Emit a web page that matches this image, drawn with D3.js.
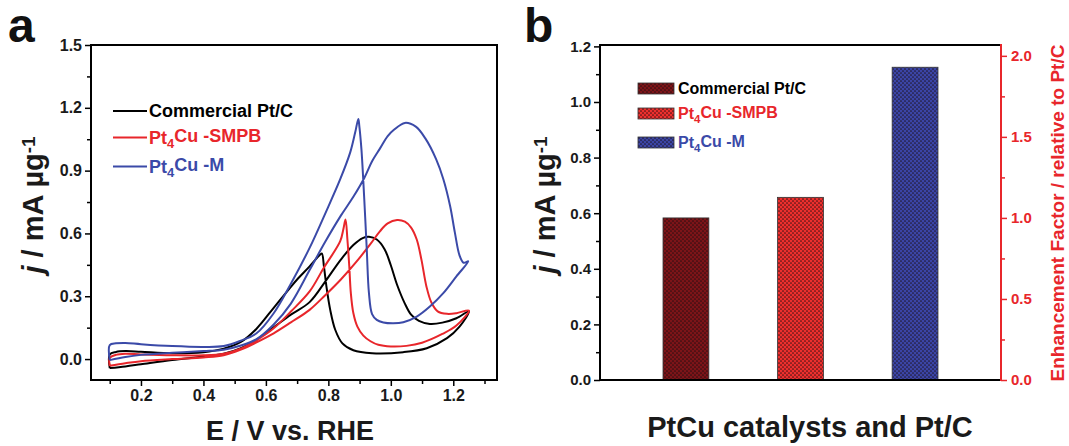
<!DOCTYPE html>
<meta charset="utf-8">
<style>
  body { margin: 0; background: #fff; }
  svg { display: block; font-family: "Liberation Sans", Arial, sans-serif; font-weight: bold; }
  .frame { fill: none; stroke: #000; stroke-width: 2; }
  .axis path { display: none; }
  .axis line { stroke: #000; stroke-width: 1.5; }
  .axis text { font-size: 15px; font-weight: bold; fill: #1a1a1a; }
  .red-axis line { stroke: #e8262b; }
  .red-axis text { fill: #e8262b; }
</style>
<svg width="1069" height="446"></svg>
<script src="https://cdnjs.cloudflare.com/ajax/libs/d3/7.8.5/d3.min.js"></script>
<script>
// ---- data ----
var catalysts = ["Commercial Pt/C", "Pt4Cu -SMPB", "Pt4Cu -M"];
var lineColors = ["#000000", "#e8262b", "#3b4aa8"];

// CV curves, [E (V vs RHE), j (mA/ug)]; forward then reverse scan
var ptcForward = [[0.10,-0.043],[0.15,-0.035],[0.20,-0.025],[0.30,-0.005],[0.40,0.012],[0.465,0.025],[0.52,0.052],[0.57,0.092],[0.625,0.152],[0.68,0.212],[0.74,0.272],[0.79,0.37],[0.84,0.475],[0.88,0.545],[0.91,0.578],[0.93,0.584],[0.955,0.571],[0.98,0.525],[1.00,0.448],[1.02,0.355],[1.045,0.265],[1.065,0.212],[1.09,0.182],[1.125,0.168],[1.165,0.174],[1.21,0.195],[1.25,0.228]];
var ptcReverse = [[1.25,0.228],[1.22,0.155],[1.18,0.10],[1.115,0.052],[1.04,0.033],[0.94,0.028],[0.88,0.042],[0.845,0.075],[0.822,0.14],[0.806,0.235],[0.794,0.345],[0.786,0.44],[0.779,0.504],[0.77,0.493],[0.74,0.443],[0.70,0.38],[0.68,0.345],[0.625,0.245],[0.57,0.145],[0.52,0.082],[0.465,0.05],[0.40,0.033],[0.30,0.028],[0.20,0.035],[0.15,0.038],[0.12,0.034],[0.10,0.022]];
var smpbForward = [[0.10,-0.032],[0.15,-0.02],[0.20,-0.01],[0.30,0.0],[0.40,0.008],[0.465,0.018],[0.52,0.045],[0.57,0.08],[0.625,0.123],[0.68,0.175],[0.74,0.235],[0.79,0.305],[0.84,0.38],[0.89,0.465],[0.935,0.55],[0.965,0.61],[0.99,0.648],[1.02,0.664],[1.045,0.656],[1.065,0.628],[1.083,0.571],[1.098,0.475],[1.114,0.347],[1.13,0.27],[1.15,0.228],[1.18,0.216],[1.21,0.219],[1.25,0.232]];
var smpbReverse = [[1.25,0.232],[1.21,0.16],[1.165,0.12],[1.10,0.078],[1.05,0.063],[1.00,0.06],[0.96,0.068],[0.935,0.085],[0.912,0.112],[0.893,0.155],[0.88,0.22],[0.872,0.315],[0.867,0.443],[0.861,0.571],[0.855,0.667],[0.848,0.62],[0.838,0.563],[0.785,0.435],[0.74,0.323],[0.68,0.227],[0.625,0.147],[0.57,0.09],[0.52,0.05],[0.465,0.026],[0.40,0.018],[0.30,0.018],[0.20,0.022],[0.15,0.025],[0.12,0.02],[0.10,0.005]];
var mForward = [[0.10,-0.005],[0.15,0.01],[0.20,0.02],[0.30,0.03],[0.40,0.038],[0.465,0.045],[0.52,0.065],[0.57,0.095],[0.625,0.165],[0.68,0.265],[0.74,0.425],[0.79,0.56],[0.84,0.685],[0.88,0.775],[0.915,0.865],[0.94,0.945],[0.965,1.005],[0.99,1.065],[1.01,1.095],[1.045,1.128],[1.08,1.11],[1.11,1.055],[1.145,0.955],[1.168,0.86],[1.19,0.73],[1.205,0.605],[1.22,0.495],[1.233,0.46],[1.248,0.467]];
var mReverse = [[1.248,0.467],[1.21,0.395],[1.168,0.315],[1.125,0.251],[1.083,0.203],[1.04,0.176],[1.008,0.171],[0.976,0.175],[0.955,0.187],[0.94,0.215],[0.93,0.315],[0.923,0.523],[0.915,0.763],[0.906,1.0],[0.899,1.115],[0.896,1.147],[0.886,1.083],[0.87,0.987],[0.838,0.859],[0.79,0.695],[0.74,0.531],[0.68,0.36],[0.625,0.219],[0.57,0.123],[0.52,0.088],[0.465,0.062],[0.40,0.058],[0.30,0.062],[0.20,0.071],[0.15,0.077],[0.12,0.075],[0.10,0.067]];

// mass activity bars (mA/ug)
var massActivity = [0.583, 0.657, 1.125];
var barColors = ["#7d1418", "#ee2f2d", "#3b45a6"];

// tick values
var aXMajor = [0.2, 0.4, 0.6, 0.8, 1.0, 1.2], aXMinor = [0.1, 0.3, 0.5, 0.7, 0.9, 1.1, 1.3];
var aYMajor = [0, 0.3, 0.6, 0.9, 1.2, 1.5], aYMinor = [0.15, 0.45, 0.75, 1.05, 1.35];
var bYMajor = [0, 0.2, 0.4, 0.6, 0.8, 1.0, 1.2], bYMinor = [0.1, 0.3, 0.5, 0.7, 0.9, 1.1];
var bRMajor = [0, 0.5, 1.0, 1.5, 2.0], bRMinor = [0.25, 0.75, 1.25, 1.75];

var svg = d3.select("svg");
var fmt = d3.format(".1f");

// label with subscript 4 in "Pt4Cu"
function richText(sel, s) {
  var m = s.match(/^Pt4(.*)$/);
  if (!m) { sel.text(s); return; }
  sel.append("tspan").text("Pt");
  sel.append("tspan").attr("dy", "0.3em").style("font-size", "0.72em").text("4");
  sel.append("tspan").attr("dy", "-0.3em").text(m[1]);
}

// ============ panel a ============
var ax = { l: 91, r: 497, t: 45, b: 380 };
var xA = d3.scaleLinear().domain([0.04, 1.34]).range([ax.l, ax.r]);
var yA = d3.scaleLinear().domain([-0.1, 1.5]).range([ax.b, ax.t]);

var gA = svg.append("g");
gA.append("g").attr("class", "axis").attr("transform", "translate(0," + ax.b + ")")
  .call(d3.axisBottom(xA).tickValues(aXMajor).tickFormat(fmt).tickSize(6).tickPadding(4))
  .selectAll("text").style("font-size", "16px");
gA.append("g").attr("class", "axis").attr("transform", "translate(0," + ax.b + ")")
  .call(d3.axisBottom(xA).tickValues(aXMinor).tickFormat("").tickSize(4));
gA.append("g").attr("class", "axis").attr("transform", "translate(" + ax.l + ",0)")
  .call(d3.axisLeft(yA).tickValues(aYMajor).tickFormat(fmt).tickSize(6).tickPadding(3))
  .selectAll("text").style("font-size", "16px");
gA.append("g").attr("class", "axis").attr("transform", "translate(" + ax.l + ",0)")
  .call(d3.axisLeft(yA).tickValues(aYMinor).tickFormat("").tickSize(4));

var cv = d3.line().x(function(d) { return xA(d[0]); }).y(function(d) { return yA(d[1]); })
  .curve(d3.curveCatmullRom.alpha(0.5));
var loops = [ptcForward.concat(ptcReverse.slice(1), [ptcForward[0]]),
             smpbForward.concat(smpbReverse.slice(1), [smpbForward[0]]),
             mForward.concat(mReverse.slice(1), [mForward[0]])];
gA.selectAll("path.cv").data(loops).enter().append("path")
  .attr("class", "cv")
  .attr("d", cv)
  .attr("fill", "none")
  .attr("stroke", function(d, i) { return lineColors[i]; })
  .attr("stroke-width", 2);

gA.append("rect").attr("class", "frame")
  .attr("x", ax.l).attr("y", ax.t).attr("width", ax.r - ax.l).attr("height", ax.b - ax.t);

var legA = gA.selectAll("g.leg").data(catalysts).enter().append("g")
  .attr("transform", function(d, i) { return "translate(113," + [111, 137.5, 166.5][i] + ")"; });
legA.append("line").attr("x1", 0).attr("x2", 34)
  .attr("stroke", function(d, i) { return lineColors[i]; }).attr("stroke-width", 2);
legA.append("text").attr("x", 36).attr("dy", "0.36em")
  .style("font-size", "18px").attr("fill", function(d, i) { return lineColors[i]; })
  .each(function(d) { richText(d3.select(this), d); });

gA.append("text").attr("x", 290).attr("y", 440).attr("text-anchor", "middle")
  .style("font-size", "27px").attr("fill", "#1a1a1a").text("E / V vs. RHE");

function yLabel(g, x, y) {
  var t = g.append("text").attr("transform", "translate(" + x + "," + y + ") rotate(-90)")
    .attr("text-anchor", "middle").style("font-size", "29px").attr("fill", "#1a1a1a");
  t.append("tspan").style("font-style", "italic").text("j");
  t.append("tspan").text(" / mA \u00b5g");
  t.append("tspan").attr("dy", "-0.45em").style("font-size", "0.65em").text("-1");
}
yLabel(gA, 43, 205);

svg.append("text").attr("x", 8).attr("y", 42).style("font-size", "48px").attr("fill", "#111").text("a");
svg.append("text").attr("x", 524).attr("y", 42).style("font-size", "48px").attr("fill", "#111").text("b");

// ============ panel b ============
var bx = { l: 600, r: 1001, t: 45, b: 380 };
var xB = d3.scaleBand().domain(catalysts).range([bx.l, bx.r]).paddingInner(0.6).paddingOuter(0.55);
var yB = d3.scaleLinear().domain([0, 1.205]).range([bx.b, bx.t]);
var yR = d3.scaleLinear().domain([0, 1.205 / massActivity[0]]).range([bx.b, bx.t]);

var defs = svg.append("defs");
barColors.forEach(function(c, i) {
  var p = defs.append("pattern").attr("id", "pat" + i).attr("patternUnits", "userSpaceOnUse")
    .attr("width", 4).attr("height", 4);
  p.append("rect").attr("width", 4).attr("height", 4).attr("fill", c);
  p.append("circle").attr("cx", 1).attr("cy", 1).attr("r", 0.85).attr("fill", "#1a0c10").attr("opacity", 0.8);
  p.append("circle").attr("cx", 3).attr("cy", 3).attr("r", 0.85).attr("fill", "#1a0c10").attr("opacity", 0.8);
});

var gB = svg.append("g");
gB.selectAll("rect.bar").data(massActivity).enter().append("rect")
  .attr("class", "bar")
  .attr("x", function(d, i) { return xB(catalysts[i]); })
  .attr("width", xB.bandwidth())
  .attr("y", function(d) { return yB(d); })
  .attr("height", function(d) { return yB(0) - yB(d); })
  .attr("fill", function(d, i) { return "url(#pat" + i + ")"; })
  .attr("stroke", "#333").attr("stroke-width", 0.8);

gB.append("g").attr("class", "axis").attr("transform", "translate(" + bx.l + ",0)")
  .call(d3.axisLeft(yB).tickValues(bYMajor).tickFormat(fmt).tickSize(6).tickPadding(3));
gB.append("g").attr("class", "axis").attr("transform", "translate(" + bx.l + ",0)")
  .call(d3.axisLeft(yB).tickValues(bYMinor).tickFormat("").tickSize(4));
gB.append("g").attr("class", "axis red-axis").attr("transform", "translate(" + bx.r + ",0)")
  .call(d3.axisRight(yR).tickValues(bRMajor).tickFormat(fmt).tickSize(6).tickPadding(4));
gB.append("g").attr("class", "axis red-axis").attr("transform", "translate(" + bx.r + ",0)")
  .call(d3.axisRight(yR).tickValues(bRMinor).tickFormat("").tickSize(4));

gB.append("path").attr("class", "frame")
  .attr("d", "M" + bx.r + "," + bx.t + "H" + bx.l + "V" + bx.b + "H" + bx.r);
gB.append("line").attr("x1", bx.r).attr("x2", bx.r).attr("y1", bx.t - 1).attr("y2", bx.b + 1)
  .attr("stroke", "#e8262b").attr("stroke-width", 2);

var legB = gB.selectAll("g.legb").data(catalysts).enter().append("g")
  .attr("transform", function(d, i) { return "translate(638," + [83, 108, 137][i] + ")"; });
legB.append("rect").attr("width", 36).attr("height", 11)
  .attr("fill", function(d, i) { return "url(#pat" + i + ")"; })
  .attr("stroke", "#333").attr("stroke-width", 0.8);
legB.append("text").attr("x", 40).attr("y", 5.5).attr("dy", "0.36em")
  .style("font-size", "16px").attr("fill", function(d, i) { return lineColors[i]; })
  .each(function(d) { richText(d3.select(this), d); });

yLabel(gB, 555, 205);

gB.append("text").attr("x", 810).attr("y", 437).attr("text-anchor", "middle")
  .style("font-size", "29px").attr("fill", "#1a1a1a").text("PtCu catalysts and Pt/C");

gB.append("text").attr("transform", "translate(1064,213) rotate(-90)")
  .attr("text-anchor", "middle").style("font-size", "19px").attr("fill", "#e8262b")
  .text("Enhancement Factor / relative to Pt/C");
</script>
